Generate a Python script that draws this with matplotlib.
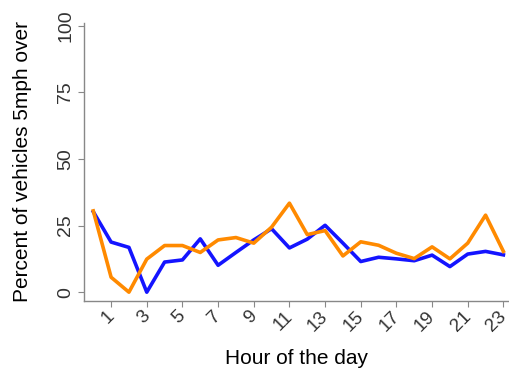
import matplotlib
matplotlib.use("Agg")
import matplotlib.pyplot as plt

plt.rcParams['font.family'] = ['Liberation Sans', 'DejaVu Sans']

# hour of the day, 0-23
hours = list(range(24))
# two series, percent of vehicles going 5mph over the limit
blue_pct = [30.2, 18.8, 16.8, 0.0, 11.3, 12.1, 20.0, 10.1, 14.9, 19.6, 23.8, 16.6,
            19.9, 25.1, 18.4, 11.5, 13.1, 12.5, 11.8, 13.9, 9.6, 14.3, 15.3, 14.0]
orange_pct = [30.5, 5.6, 0.0, 12.4, 17.5, 17.5, 14.9, 19.6, 20.5, 18.4, 24.4, 33.4,
              21.6, 23.1, 13.6, 18.9, 17.6, 14.6, 12.6, 17.0, 12.5, 18.4, 28.9, 15.3]
xticks = list(range(1, 24, 2))
yticks = [0, 25, 50, 75, 100]

fig = plt.figure(figsize=(5.1, 3.75), dpi=100)
ax = fig.add_axes([84 / 510, 1 - 300.7 / 375, 426 / 510, 277.7 / 375])

ax.plot(hours, blue_pct, color='#1414ff', lw=2.6)
ax.plot(hours, orange_pct, color='#ff8a00', lw=2.6)

ax.set_xlim(-0.52, 23.37)
ax.set_ylim(-3.2, 101)
ax.set_xticks(xticks)
ax.set_xticklabels([])
# rotated hour labels, nudged a little left so the last one stays inside
for t in xticks:
    ax.annotate(str(t), xy=(t, 0), xycoords=('data', 'axes fraction'),
                xytext=(-4, -5), textcoords='offset points', rotation=45,
                ha='right', va='top', rotation_mode='anchor',
                fontsize=13.5, color='#333333')
ax.set_yticks(yticks)
ax.set_yticklabels([str(t) for t in yticks], rotation=90, fontsize=14, va='center')
ax.tick_params(colors='#888888', labelcolor='#333333', length=4)
ax.tick_params(axis='y', pad=3)

for s in ['top', 'right']:
    ax.spines[s].set_visible(False)
for s in ['left', 'bottom']:
    ax.spines[s].set_color('#888888')
    ax.spines[s].set_linewidth(1.0)

ax.set_xlabel('Hour of the day', fontsize=15, labelpad=27)
ax.set_ylabel('Percent of vehicles 5mph over', fontsize=15, labelpad=18)

fig.savefig('out.png', dpi=100)
